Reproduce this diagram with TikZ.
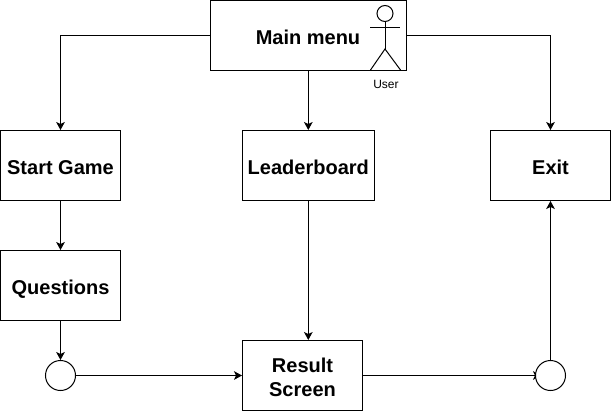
\documentclass[tikz,border=0pt]{standalone}
\usepackage{fontspec}
\setmainfont{Liberation Sans}
\usetikzlibrary{arrows.meta}
\tikzset{
  label text/.style={font=\bfseries\fontsize{15}{18}\selectfont},
  box/.style={draw,line width=0.75pt,minimum height=52.5pt,align=center,inner sep=0pt,label text},
  single/.style={text height=12.8pt,text depth=0pt},
  junction/.style={draw,circle,fill=white,line width=0.75pt,minimum size=22.5pt,inner sep=0pt},
  link/.style={line width=0.75pt,-{Stealth[length=6pt,width=6.5pt,inset=1.5pt]}}
}
\begin{document}
\begin{tikzpicture}[x=0.75pt,y=-0.75pt]
\useasboundingbox (0,0) rectangle (611,411);
%Boxes of the top row, then the ones below them
\node[box,minimum width=147pt] (menu) at (308.3,35.5) {};
\node[label text] (menutext) at (308,37) {Main menu};
\node[box,single,minimum width=90pt] (start) at (60.5,165.5) {Start Game};
\node[box,single,minimum width=99pt] (board) at (308.3,165.5) {Leaderboard};
\node[box,single,minimum width=90pt] (exit) at (550.5,165.5) {Exit};
\node[box,single,minimum width=90pt] (questions) at (60.5,285.5) {Questions};
\node[box,minimum width=90pt] (result) at (302.5,375.5) {\rule{0pt}{13.8pt}Result\\Screen};
\node[junction] (left) at (60.5,375.5) {};
%The user figure
\node[draw,circle,line width=0.75pt,minimum size=12pt,inner sep=0pt] (head) at (385,13.5) {};
\coordinate (hip) at (385,49);
\draw[line width=0.75pt] (head.south) -- (hip);
\draw[line width=0.75pt] (370,27) -- (400,27);
\draw[line width=0.75pt] (370.5,70) -- (hip) -- (400.5,70);
\node[font=\fontsize{9}{11}\selectfont] (user) at (386,84.5) {User};
%Connectors
\draw[link] (menu.west) -| (start.north);
\draw[link] (menu.south) -- (board.north);
\draw[link] (menu.east) -| (exit.north);
\draw[link] (start.south) -- (questions.north);
\draw[link] (questions.south) -- (left.north);
\draw[link] (left.east) -- (result.west);
\draw[link] (board.south) -- (board.south |- result.north);
% the right circle sits on top of this arrow
\coordinate (righttip) at (541,375.5);
\draw[link] (result.east) -- (righttip);
\node[junction] (right) at (550.5,375.5) {};
\draw[link] (right.north) -- (exit.south);
\end{tikzpicture}
\end{document}
